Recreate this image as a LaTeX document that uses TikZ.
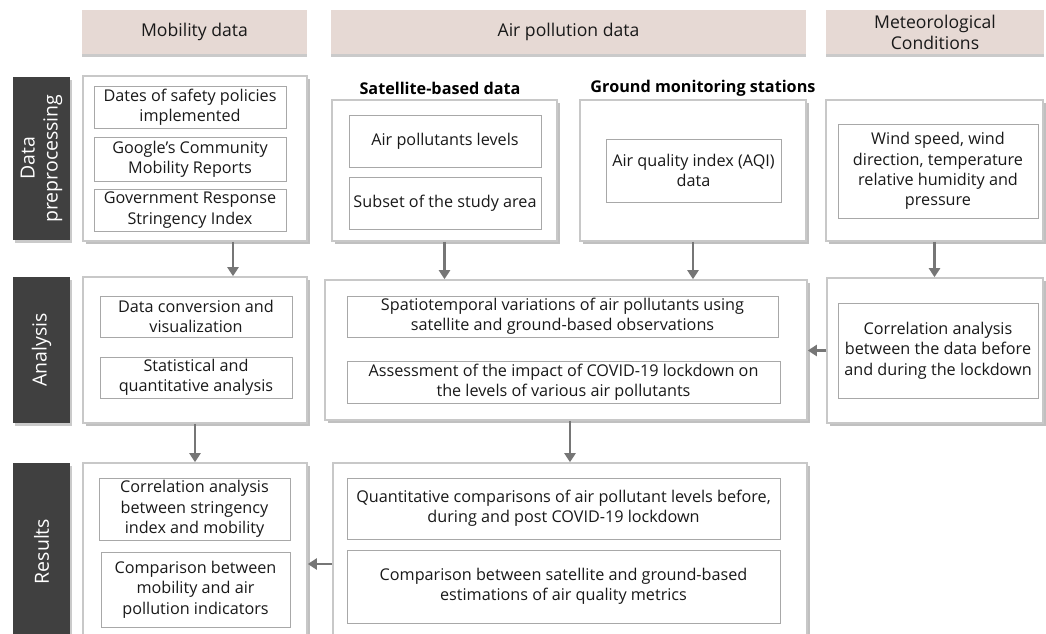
\documentclass[tikz,border=0pt]{standalone}
\usepackage{fontspec}
\setmainfont{Open Sans}
\usetikzlibrary{arrows.meta,shadows,calc}
\definecolor{hdr}{HTML}{E6D9D4}
\definecolor{lab}{HTML}{404040}
\definecolor{arrc}{HTML}{767676}
\definecolor{obord}{HTML}{C8C8C8}
\definecolor{ibord}{HTML}{A8A8A8}
\begin{document}
\begin{tikzpicture}[x=1pt,y=-1pt,
  txt/.style={font=\fontsize{16.2}{20.3}\selectfont, align=center, text=black!90},
  hdrbox/.style={font=\fontsize{17.6}{21}\selectfont, align=center, text=black!90, fill=hdr, draw=none, inner sep=0pt,
     drop shadow={shadow xshift=0pt, shadow yshift=-2.5pt, opacity=0.35, fill=black!60}},
  rowlab/.style={fill=lab, draw=none, text=white, inner sep=0pt, rotate=90,
     font=\fontsize{19.5}{23}\selectfont, align=center,
     drop shadow={shadow xshift=2pt, shadow yshift=-2.5pt, opacity=0.35, fill=black!60}},
  outer/.style={fill=white, draw=obord, line width=1.6pt, inner sep=0pt,
     drop shadow={shadow xshift=2.5pt, shadow yshift=-3pt, opacity=0.45, fill=black!55}},
  inner/.style={txt, fill=white, draw=ibord, line width=0.9pt, inner sep=0pt},
  ttl/.style={font=\fontsize{16.2}{19}\selectfont\bfseries},
  arr/.style={draw=arrc, line width=2.6pt, -{Triangle[width=11pt,length=9pt]}}]
\useasboundingbox (0,0) rectangle (1046,633);
\begin{scope}
\clip (0,0) rectangle (1046,633);
% headers
\node[hdrbox, minimum width=225, minimum height=44] (hMob) at (194.5,32) {Mobility data};
\node[hdrbox, minimum width=475, minimum height=44] (hAir) at (568.5,32) {Air pollution data};
\node[hdrbox, minimum width=218, minimum height=44] (hMet) at (935,32) {Meteorological\\Conditions};
% row labels
\node[rowlab, minimum width=163, minimum height=57] (lPre) at (41.5,158.5) {Data\\preprocessing};
\node[rowlab, minimum width=146, minimum height=57] (lAna) at (41.5,350) {Analysis};
\node[rowlab, minimum width=177, minimum height=57] (lRes) at (41.5,551.5) {Results};
% titles
\node[ttl] (tSat) at (440,88) {Satellite-based data};
\node[ttl] (tGnd) at (703,88) {Ground monitoring stations};
% outer boxes
\node[outer, minimum width=224, minimum height=165] (oMob1) at (195,158.5) {};
\node[outer, minimum width=225, minimum height=141] (oSat) at (444.5,170.5) {};
\node[outer, minimum width=226, minimum height=141] (oGnd) at (693,170.5) {};
\node[outer, minimum width=217, minimum height=141] (oMet1) at (934.5,170.5) {};
\node[outer, minimum width=224, minimum height=146] (oMob2) at (195,350) {};
\node[outer, minimum width=482, minimum height=140] (oAir2) at (566,350) {};
\node[outer, minimum width=216, minimum height=145] (oMet2) at (935,350.5) {};
\node[outer, minimum width=224, minimum height=182] (oMob3) at (195,554) {};
\node[outer, minimum width=474, minimum height=182] (oAir3) at (570,554) {};
% inner boxes row 1
\node[inner, minimum width=192, minimum height=42] (iDates) at (190,107) {Dates of safety policies\\implemented};
\node[inner, minimum width=192, minimum height=44] (iGoogle) at (190,159) {Google\char"0027 s Community\\Mobility Reports};
\node[inner, minimum width=192, minimum height=42] (iGov) at (190,210) {Government Response\\Stringency Index};
\node[inner, minimum width=192, minimum height=52] (iAPL) at (445,141) {Air pollutants levels};
\node[inner, minimum width=192, minimum height=52] (iSub) at (445,203) {Subset of the study area};
\node[inner, minimum width=175, minimum height=63] (iAQI) at (693.5,170.5) {Air quality index (AQI)\\data};
\node[inner, minimum width=200, minimum height=94] (iWind) at (938,171) {Wind speed, wind\\direction, temperature\\relative humidity and\\pressure};
% row 2
\node[inner, minimum width=192, minimum height=41] (iConv) at (196,316.5) {Data conversion and\\visualization};
\node[inner, minimum width=192, minimum height=41] (iStat) at (196,377.5) {Statistical and\\quantitative analysis};
\node[inner, minimum width=431, minimum height=41] (iSpat) at (562.5,316.5) {Spatiotemporal variations of air pollutants using\\satellite and ground-based observations};
\node[inner, minimum width=433, minimum height=42] (iAss) at (563.5,382) {Assessment of the impact of COVID-19 lockdown on\\the levels of various air pollutants};
\node[inner, minimum width=200, minimum height=95] (iCorrMet) at (938,350.5) {Correlation analysis\\between the data before\\and during the lockdown};
% row 3
\node[inner, minimum width=191, minimum height=62] (iCorrStr) at (194.5,509) {Correlation analysis\\between stringency\\index and mobility};
\node[inner, minimum width=189, minimum height=75] (iCompMob) at (195.5,589.5) {Comparison between\\mobility and air\\pollution indicators};
\node[inner, minimum width=433, minimum height=61] (iQuant) at (563.5,508.5) {Quantitative comparisons of air pollutant levels before,\\during and post COVID-19 lockdown};
\node[inner, minimum width=433, minimum height=73] (iCompSat) at (563.5,586.5) {Comparison between satellite and ground-based\\estimations of air quality metrics};
% arrows
\draw[arr] ([xshift=38pt]oMob1.south) -- ([xshift=38pt]oMob2.north);
\draw[arr] (oSat.south) -- (oSat.south |- oAir2.north);
\draw[arr] (oGnd.south) -- (oGnd.south |- oAir2.north);
\draw[arr] (oMet1.south) -- (oMet1.south |- oMet2.north);
\draw[arr] (oMet2.west) -- (oMet2.west -| oAir2.east);
\draw[arr] (oMob2.south) -- (oMob3.north);
\draw[arr] ([xshift=4pt]oAir2.south) -- ([xshift=4pt]oAir2.south |- oAir3.north);
\draw[arr] ([yshift=-10pt]oAir3.west) -- ([yshift=-10pt]oAir3.west -| oMob3.east);
\end{scope}
\end{tikzpicture}
\end{document}
